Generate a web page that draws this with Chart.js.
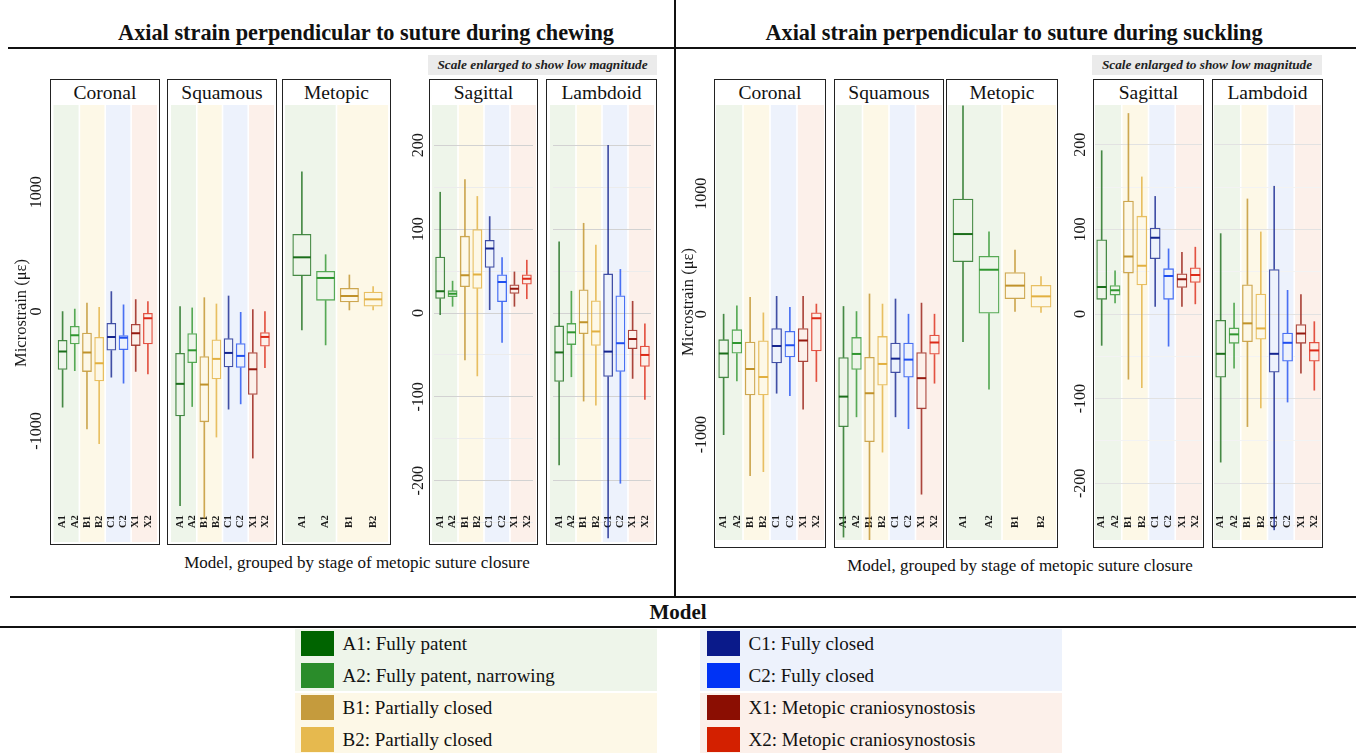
<!DOCTYPE html>
<html lang="en">
<head>
<meta charset="UTF-8">
<title>Axial strain perpendicular to suture</title>
<script src="https://cdn.jsdelivr.net/npm/chart.js@4.4.0/dist/chart.umd.min.js"></script>
<style>
    * { margin: 0; padding: 0; box-sizing: border-box; }
    body {
        background: #fff;
        width: 1356px;
        height: 753px;
        overflow: hidden;
        font-family: 'Liberation Serif', 'Times New Roman', serif;
        color: #111;
    }
    #fig { position: relative; width: 1356px; height: 753px; }
    .rule { position: absolute; background: #111; }
    .title {
        position: absolute;
        top: 20px;
        font-weight: bold;
        font-size: 22.3px;
        line-height: 26px;
        white-space: nowrap;
        transform: translateX(-50%);
    }
    .note {
        position: absolute;
        top: 55px;
        height: 20px;
        background: #ebebeb;
        font-weight: bold;
        font-style: italic;
        font-size: 13.3px;
        line-height: 20px;
        text-align: center;
        color: #222;
    }
    .panel {
        position: absolute;
        top: 79px;
        border: 1.6px solid #222;
        background: #fff;
    }
    .panel .head {
        height: 25px;
        line-height: 25px;
        text-align: center;
        font-size: 19.5px;
        white-space: nowrap;
    }
    canvas { position: absolute; }
    .xtitle {
        position: absolute;
        font-size: 17px;
        line-height: 20px;
        white-space: nowrap;
        transform: translateX(-50%);
    }
    .model {
        position: absolute;
        left: 678px;
        top: 599px;
        font-weight: bold;
        font-size: 21px;
        line-height: 26px;
        transform: translateX(-50%);
    }
    .block { position: absolute; }
    .item { position: absolute; height: 25px; white-space: nowrap; }
    .item .sw { position: absolute; left: 0; top: 0; width: 33px; height: 25px; }
    .item .lt { position: absolute; left: 42px; top: 0; font-size: 19px; line-height: 25px; }
</style>
</head>
<body>
<div id="fig">
    <div class="title" style="left:366px">Axial strain perpendicular to suture during chewing</div>
    <div class="title" style="left:1014px">Axial strain perpendicular to suture during suckling</div>
    <div class="rule" style="left:8px; top:47px; width:1348px; height:2px"></div>
    <div class="rule" style="left:674px; top:0; width:2px; height:597px"></div>
    <div class="rule" style="left:10px; top:596px; width:1346px; height:2px"></div>
    <div class="rule" style="left:0; top:626px; width:1356px; height:2px"></div>
    <div class="note" style="left:428px; width:229px">Scale enlarged to show low magnitude</div>
    <div class="note" style="left:1092px; width:230px">Scale enlarged to show low magnitude</div>
    <div class="xtitle" style="left:357px; top:553px">Model, grouped by stage of metopic suture closure</div>
    <div class="xtitle" style="left:1020px; top:556px">Model, grouped by stage of metopic suture closure</div>
    <div class="model">Model</div>
</div>

<script>
    // Models and tick labels
    const models = ['A1', 'A2', 'B1', 'B2', 'C1', 'C2', 'X1', 'X2'];
    const metopicModels = ['A1', 'A2', 'B1', 'B2'];
    const bigTicks = [1000, 0, -1000];
    const smallTicks = [200, 100, 0, -100, -200];
    const legendLabels = [
        'A1: Fully patent', 'A2: Fully patent, narrowing',
        'B1: Partially closed', 'B2: Partially closed',
        'C1: Fully closed', 'C2: Fully closed',
        'X1: Metopic craniosynostosis', 'X2: Metopic craniosynostosis'
    ];

    // Box stats per model: [min, q1, median, q3, max] in microstrain
    const chewCoronal = [
        [-800, -488, -335, -237, 0], [-494, -273, -198, -120, 22],
        [-982, -505, -343, -176, 72], [-1107, -583, -432, -212, 36],
        [-549, -326, -212, -95, 167], [-600, -321, -218, -198, 56],
        [-502, -287, -181, -103, 100], [-522, -273, -56, -11, 84]
    ];
    const chewSquamous = [
        [-1626, -876, -605, -346, 42], [-795, -430, -324, -181, 31],
        [-1731, -926, -611, -374, 117], [-1051, -566, -396, -234, 64],
        [-817, -466, -346, -223, 131], [-773, -471, -371, -265, -6],
        [-1227, -697, -483, -340, 17], [-469, -293, -212, -173, 0]
    ];
    const chewMetopic = [
        [-153, 298, 455, 650, 1171], [-279, 92, 282, 340, 477],
        [14, 78, 131, 198, 307], [14, 42, 103, 167, 209]
    ];
    const chewSagittal = [
        [-2, 17, 26, 67, 144], [8, 19, 23, 27, 38],
        [-56, 31, 45, 92, 159], [-75, 29, 46, 100, 139],
        [4, 54, 77, 87, 115], [-35, 13, 37, 46, 66],
        [8, 23, 29, 34, 49], [17, 34, 41, 46, 63]
    ];
    const chewLambdoid = [
        [-181, -82, -47, -15, 85], [-76, -38, -23, -12, 26],
        [-105, -25, -11, 28, 107], [-110, -39, -22, 15, 81],
        [-268, -76, -46, 47, 200], [-203, -70, -36, 21, 52],
        [-78, -43, -31, -20, 14], [-103, -64, -50, -39, -13]
    ];
    const suckCoronal = [
        [-1000, -531, -327, -209, 0], [-553, -327, -240, -126, 70],
        [-1341, -673, -455, -229, 140], [-1307, -673, -522, -218, 11],
        [-656, -408, -265, -117, 148], [-676, -357, -257, -140, 56],
        [-788, -397, -218, -117, 148], [-559, -307, -34, 14, 84]
    ];
    const suckSquamous = [
        [-1850, -936, -684, -358, 64], [-852, -461, -330, -190, 22],
        [-1900, -1061, -656, -355, 168], [-1145, -592, -413, -182, 84],
        [-852, -489, -369, -237, 126], [-950, -525, -377, -237, 0],
        [-1494, -788, -531, -316, 92], [-573, -335, -235, -170, 0]
    ];
    const suckMetopic = [
        [-229, 433, 665, 958, 1730], [-623, 6, 369, 483, 684],
        [22, 126, 237, 349, 531], [14, 56, 148, 243, 313]
    ];
    const suckSagittal = [
        [-37, 17, 32, 88, 193], [13, 22, 28, 34, 51],
        [-77, 48, 68, 134, 237], [-87, 34, 57, 116, 162],
        [9, 65, 90, 102, 139], [-38, 17, 45, 54, 77],
        [9, 31, 41, 48, 73], [12, 37, 46, 55, 79]
    ];
    const suckLambdoid = [
        [-175, -75, -47, -7, 95], [-64, -35, -24, -16, 13],
        [-133, -33, -11, 35, 136], [-111, -30, -17, 24, 97],
        [-255, -69, -47, 53, 151], [-104, -56, -34, -22, 28],
        [-70, -35, -23, -12, 23], [-90, -56, -43, -33, -9]
    ];

    const lineColor = { A1: '#1b6e1b', A2: '#2f962f', B1: '#c0922a', B2: '#e2b040', C1: '#15258f', C2: '#1f4ff0', X1: '#961a10', X2: '#dc2a18' };
    const swatchColor = { A1: '#006400', A2: '#2a8c2a', B1: '#c59b3d', B2: '#e6b94e', C1: '#0a1a8a', C2: '#0033f5', X1: '#8b0e02', X2: '#d32000' };
    const bandColor = { A: '#eef5ea', B: '#fdf8e7', C: '#edf2fc', X: '#fcf0ea' };

    function fade(hex, a) {
        const n = parseInt(hex.slice(1), 16);
        return `rgba(${n >> 16}, ${(n >> 8) & 255}, ${n & 255}, ${a})`;
    }

    // shaded group bands, rotated model labels and y-axis text
    const panelDecor = {
        id: 'panelDecor',
        beforeDraw(chart, args, o) {
            const { ctx, width, height } = chart;
            const n = o.cats.length;
            const bw = (width - o.axisW) / n;
            let start = 0;
            ctx.save();
            for (let i = 1; i <= n; i++) {
                if (i === n || o.cats[i][0] !== o.cats[start][0]) {
                    const x0 = o.axisW + start * bw + (start > 0 ? 0.8 : 0);
                    const x1 = o.axisW + i * bw - (i < n ? 0.8 : 0);
                    ctx.fillStyle = bandColor[o.cats[start][0]];
                    ctx.fillRect(x0, 0, x1 - x0, height);
                    start = i;
                }
            }
            ctx.restore();
        },
        beforeDatasetsDraw(chart, args, o) {
            const { ctx, height } = chart;
            const xs = chart.scales.x;
            ctx.save();
            ctx.fillStyle = '#1a1a1a';
            ctx.font = 'bold 10.5px "Liberation Serif", serif';
            ctx.textAlign = 'left';
            ctx.textBaseline = 'middle';
            o.cats.forEach((c, i) => {
                ctx.save();
                ctx.translate(xs.getPixelForValue(i), height - o.labelOff);
                ctx.rotate(-Math.PI / 2);
                ctx.fillText(c, 0, 0);
                ctx.restore();
            });
            ctx.restore();
        },
        afterDraw(chart, args, o) {
            if (!o.ticks) return;
            const { ctx } = chart;
            const ys = chart.scales.y;
            ctx.save();
            ctx.fillStyle = '#1a1a1a';
            ctx.textAlign = 'center';
            ctx.textBaseline = 'middle';
            ctx.font = '16px "Liberation Serif", serif';
            o.ticks.forEach(v => {
                ctx.save();
                ctx.translate(o.tickX, ys.getPixelForValue(v));
                ctx.rotate(-Math.PI / 2);
                ctx.fillText(String(v), 0, 0);
                ctx.restore();
            });
            if (o.yTitle) {
                ctx.font = '16.5px "Liberation Serif", serif';
                ctx.translate(o.titleX, o.titleY);
                ctx.rotate(-Math.PI / 2);
                ctx.fillText(o.yTitle, 0, 0);
            }
            ctx.restore();
        }
    };

    const chewBig = { range: [-1930, 1731], step: 500, major: 1000 };
    const chewSmall = { range: [-273, 248], step: 50, major: 100 };
    const suckBig = { range: [-1874, 1736], step: 500, major: 1000 };
    const suckSmall = { range: [-267, 247], step: 50, major: 100 };

    const chewGrid = ['#d2d2d2', '#ececec'];
    const suckGrid = ['#e2e2e2', '#f3f3f3'];

    // frame: [left, right, bottom]; band: [left, right, bottom]; axis: where the y labels go
    const panels = [
        { name: 'Coronal', frame: [50, 160, 545], band: [53.5, 156.5, 542], cats: models, stats: chewCoronal, scale: chewBig, grid: chewGrid, pad: [3, 3], labelOff: 14,
          axis: { left: 0, tickX: 36.7, titleX: 22, titleY: 313, ticks: bigTicks, title: 'Microstrain (\u03bc\u03b5)' } },
        { name: 'Squamous', frame: [167, 277, 545], band: [170.5, 273.5, 542], cats: models, stats: chewSquamous, scale: chewBig, grid: chewGrid, pad: [3, 3], labelOff: 14 },
        { name: 'Metopic', frame: [282, 391, 545], band: [285, 388, 542], cats: metopicModels, stats: chewMetopic, scale: chewBig, grid: chewGrid, pad: [5, 3], labelOff: 14 },
        { name: 'Sagittal', frame: [429, 538, 545], band: [432, 535.5, 542], cats: models, stats: chewSagittal, scale: chewSmall, grid: chewGrid, pad: [2, 3], labelOff: 14,
          axis: { left: 405, tickX: 419, ticks: smallTicks } },
        { name: 'Lambdoid', frame: [546, 657, 545], band: [549.5, 653.5, 542], cats: models, stats: chewLambdoid, scale: chewSmall, grid: chewGrid, pad: [3, 3], labelOff: 14 },

        { name: 'Coronal', frame: [714, 826, 548], band: [716, 824, 540], cats: models, stats: suckCoronal, scale: suckBig, grid: suckGrid, pad: [1, 1], labelOff: 12,
          axis: { left: 676, tickX: 701.6, titleX: 689, titleY: 302, ticks: bigTicks, title: 'Microstrain (\u03bc\u03b5)' } },
        { name: 'Squamous', frame: [834, 944, 548], band: [836, 942, 540], cats: models, stats: suckSquamous, scale: suckBig, grid: suckGrid, pad: [1, 1], labelOff: 12 },
        { name: 'Metopic', frame: [946, 1058, 548], band: [948, 1056, 540], cats: metopicModels, stats: suckMetopic, scale: suckBig, grid: suckGrid, pad: [2, 2], labelOff: 12 },
        { name: 'Sagittal', frame: [1093, 1204, 548], band: [1095, 1202, 540], cats: models, stats: suckSagittal, scale: suckSmall, grid: suckGrid, pad: [0, 0], labelOff: 12,
          axis: { left: 1068, tickX: 1081, ticks: smallTicks } },
        { name: 'Lambdoid', frame: [1212, 1323, 548], band: [1214, 1321, 540], cats: models, stats: suckLambdoid, scale: suckSmall, grid: suckGrid, pad: [0, 0], labelOff: 12 }
    ];

    const fig = document.getElementById('fig');
    const bandTop = 105;

    panels.forEach(p => {
        const frame = document.createElement('div');
        frame.className = 'panel';
        frame.style.left = p.frame[0] + 'px';
        frame.style.width = (p.frame[1] - p.frame[0]) + 'px';
        frame.style.height = (p.frame[2] - 79) + 'px';
        frame.innerHTML = `<div class="head">${p.name}</div>`;
        fig.appendChild(frame);

        const left = p.axis ? p.axis.left : p.band[0];
        const axisW = p.band[0] - left;
        const canvas = document.createElement('canvas');
        canvas.width = Math.round(p.band[1] - left);
        canvas.height = p.band[2] - bandTop;
        canvas.style.left = left + 'px';
        canvas.style.top = bandTop + 'px';
        fig.appendChild(canvas);

        const cols = p.cats.map(c => lineColor[c]);
        const soft = cols.map(c => fade(c, 0.8));
        const n = p.cats.length;
        const [major, minor] = p.grid;

        new Chart(canvas, {
            type: 'bar',
            data: {
                labels: p.cats,
                datasets: [
                    { data: p.stats.map(s => [s[0], s[1]]), backgroundColor: soft, barThickness: 1, grouped: false, order: 4 },
                    { data: p.stats.map(s => [s[3], s[4]]), backgroundColor: soft, barThickness: 1, grouped: false, order: 3 },
                    {
                        data: p.stats.map(s => [s[1], s[3]]),
                        backgroundColor: 'rgba(0,0,0,0)',
                        borderColor: soft,
                        borderWidth: 1.3,
                        borderSkipped: false,
                        barPercentage: 0.8,
                        categoryPercentage: 1,
                        grouped: false,
                        order: 2
                    },
                    {
                        type: 'line',
                        data: p.stats.map(s => s[2]),
                        showLine: false,
                        pointStyle: 'line',
                        pointRadius: c => c.chart.scales.x.width / n * 0.4 - 0.6,
                        pointBorderWidth: 2,
                        pointBorderColor: cols,
                        pointBackgroundColor: cols,
                        order: 1
                    }
                ]
            },
            options: {
                responsive: false,
                animation: false,
                events: [],
                layout: { padding: { left: axisW + p.pad[0], right: p.pad[1], top: 0, bottom: 0 } },
                plugins: {
                    legend: { display: false },
                    tooltip: { enabled: false },
                    panelDecor: {
                        cats: p.cats,
                        axisW: axisW,
                        labelOff: p.labelOff,
                        ticks: p.axis ? p.axis.ticks : null,
                        tickX: p.axis ? p.axis.tickX - left : 0,
                        yTitle: p.axis ? p.axis.title : null,
                        titleX: p.axis && p.axis.titleX ? p.axis.titleX - left : 0,
                        titleY: p.axis && p.axis.titleY ? p.axis.titleY - bandTop : 0
                    }
                },
                scales: {
                    x: { type: 'category', display: false, offset: true },
                    y: {
                        min: p.scale.range[0],
                        max: p.scale.range[1],
                        border: { display: false },
                        ticks: { display: false, stepSize: p.scale.step },
                        grid: {
                            drawTicks: false,
                            lineWidth: 1,
                            color: c => {
                                const v = c.tick.value;
                                if (Math.abs(v % p.scale.major) < 1e-6) return major;
                                if (Math.abs(v % (p.scale.major / 2)) < 1e-6) return minor;
                                return 'rgba(0,0,0,0)';
                            }
                        }
                    }
                }
            },
            plugins: [panelDecor]
        });
    });

    // legend: four shaded blocks, two models each
    const blocks = [
        { group: 'A', left: 295, top: 629, height: 62, textLeft: 300.5 },
        { group: 'B', left: 295, top: 693, height: 60, textLeft: 300.5 },
        { group: 'C', left: 700, top: 629, height: 62, textLeft: 706.5 },
        { group: 'X', left: 700, top: 693, height: 60, textLeft: 706.5 }
    ];
    const rowTops = [631, 662.5, 694.5, 726.5];
    blocks.forEach(b => {
        const el = document.createElement('div');
        el.className = 'block';
        el.style.cssText = `left:${b.left}px; top:${b.top}px; width:362px; height:${b.height}px; background:${bandColor[b.group]}`;
        fig.appendChild(el);
    });
    models.forEach((m, i) => {
        const b = blocks[Math.floor(i / 2)];
        const row = (Math.floor(i / 2) % 2) * 2 + (i % 2);
        const it = document.createElement('div');
        it.className = 'item';
        it.style.left = b.textLeft + 'px';
        it.style.top = rowTops[row] + 'px';
        it.innerHTML = `<div class="sw" style="background:${swatchColor[m]}"></div><div class="lt">${legendLabels[i]}</div>`;
        fig.appendChild(it);
    });
</script>
</body>
</html>
